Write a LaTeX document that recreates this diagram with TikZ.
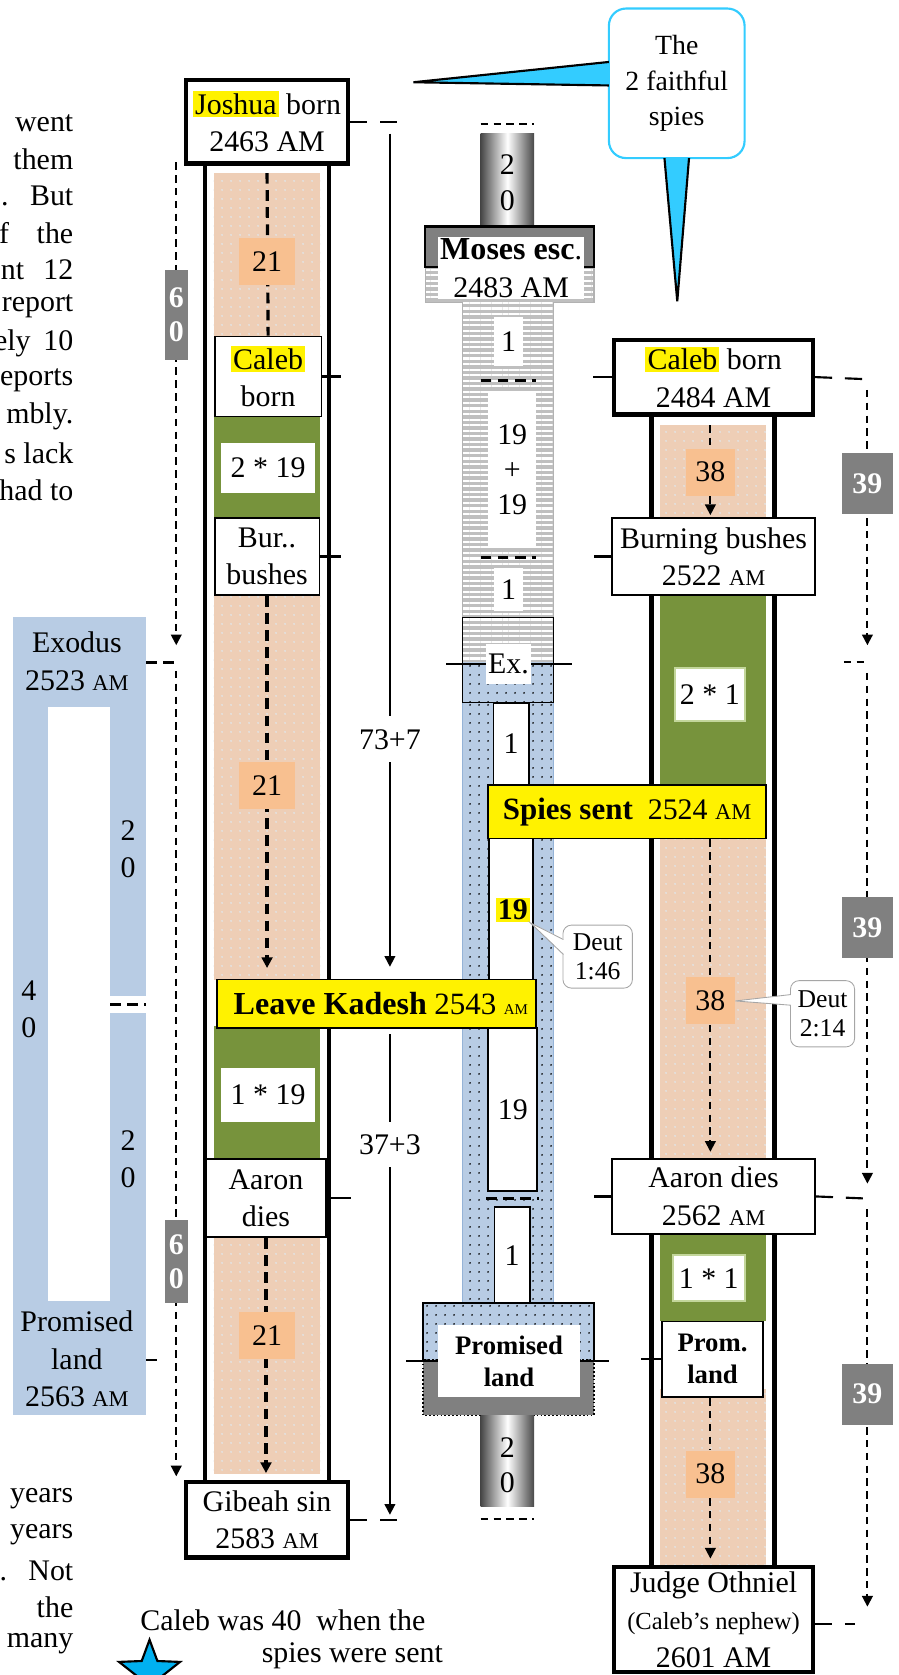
\documentclass[tikz,border=0pt]{standalone}
\usepackage{fontspec}
\setmainfont{Liberation Serif}
\usetikzlibrary{arrows.meta,patterns.meta,shapes.geometric}

\definecolor{exodusblue}{RGB}{184,204,228}
\definecolor{exodusedge}{RGB}{149,179,215}
\definecolor{desertpeach}{RGB}{238,206,182}
\definecolor{yearpeach}{RGB}{248,192,144}
\definecolor{kadeshgreen}{RGB}{119,147,60}
\definecolor{paleleaf}{RGB}{195,214,155}
\definecolor{counterbox}{RGB}{128,128,128}
\definecolor{midianstripe}{RGB}{191,191,191}
\definecolor{spycyan}{RGB}{51,204,255}
\definecolor{starcyan}{RGB}{0,176,240}
\definecolor{noteedge}{RGB}{166,166,166}

\newcommand\smallam{{\fontsize{10.5}{12}\selectfont AM}}
\newcommand\hlname[1]{{\setlength{\fboxsep}{1pt}\colorbox{yellow}{#1}}}

\begin{document}
\begin{tikzpicture}[x=0.5pt,y=-0.5pt,font=\fontsize{14}{17.5}\selectfont,
    >={Triangle[length=5pt,width=5pt]},
    event/.style={draw,line width=0.8pt,fill=white,align=center,inner sep=0pt},
    keyevent/.style={event,line width=2pt},
    yearsnum/.style={fill=yearpeach,minimum width=26pt,minimum height=22pt,inner sep=0pt},
    countbox/.style={fill=counterbox,text=white,align=center,inner sep=0pt,
      font=\fontsize{14}{16}\selectfont\bfseries},
    plainnum/.style={fill=white,align=center,inner sep=0pt},
    leafnum/.style={fill=white,draw=paleleaf,line width=1pt,inner sep=0pt},
    yellowbar/.style={draw,line width=0.8pt,fill=yellow,inner sep=0pt},
    note/.style={draw=noteedge,fill=white,rounded corners=4pt,align=center,
      inner sep=0pt,font=\fontsize{12}{13.5}\selectfont},
    fragment/.style={anchor=east,inner sep=0pt},
    desert/.style={fill=desertpeach,
      postaction={pattern={Dots[distance=4pt,radius=0.5pt]},pattern color=white!78!gray}},
    wilderness/.style={fill=exodusblue,
      postaction={pattern={Dots[distance=4pt,radius=0.45pt]},pattern color=black}},
    midian/.style={fill=midianstripe,
      postaction={pattern={Lines[distance=2.6pt,line width=1pt]},pattern color=white}},
    pillar/.style={left color=black!72,right color=black!72,middle color=white},
    tube/.style={line width=2pt},
    heavydash/.style={line width=1.5pt,dash pattern=on 5pt off 3pt},
    lightdash/.style={line width=0.9pt,dash pattern=on 3.5pt off 2.5pt},
    timedash/.style={line width=1pt,dash pattern=on 8pt off 6pt}]
  \useasboundingbox (0,0) rectangle (841,1568);

  \foreach \txt [count=\i] in {went,them,{.\hspace{10pt}But},{f\hspace{13pt}the},
      {nt\hspace{9pt}12},report,{ely\hspace{6pt}10},eports,mbly.,s lack,had to}
    \node[fragment] (fragtop\i) at (69,{115+34.4*(\i-1)}) {\txt};
  \foreach \txt [count=\i] in {years,years,{.\hspace{10pt}Not},the,many}
    \node[fragment] (fragbot\i) at (69,{1403+33.8*(\i-1)}) {\txt};

  \fill[exodusblue] (12,578) rectangle (137,1325);
  \fill[white] (45,662) rectangle (103,1218);
  \fill[white] (103,932) rectangle (137,948);
  \draw[heavydash] (103,940) -- (137,940);
  \node[align=center] (exodus) at (72,619) {Exodus\\2523 \smallam};
  \node[align=center] (twentyup) at (120,795) {2\\0};
  \node[align=center] (forty) at (27,945) {4\\0};
  \node[align=center] (twentydown) at (120,1085) {2\\0};
  \node[align=center] (promised) at (72,1272) {Promised\\land\\2563 \smallam};
  \coordinate (blueedge) at (137,1273);
  \draw[line width=1pt] (blueedge) -- ++(10,0);

  \path[desert] (200,162) rectangle (300,315);
  \path[desert] (200,557) rectangle (300,917);
  \path[desert] (200,1158) rectangle (300,1380);
  \fill[kadeshgreen] (200,385) rectangle (300,487);
  \fill[kadeshgreen] (200,960) rectangle (300,1087);
  \draw[tube] (192,155) -- (192,1385);
  \draw[tube] (308,155) -- (308,1385);

  \path[desert] (618,398) rectangle (717,485);
  \fill[kadeshgreen] (618,555) rectangle (717,737);
  \path[desert] (618,785) rectangle (717,1085);
  \fill[kadeshgreen] (618,1155) rectangle (717,1237);
  \path[desert] (618,1300) rectangle (717,1465);
  \draw[tube] (610,390) -- (610,1465);
  \draw[tube] (725,390) -- (725,1465);

  \draw[lightdash] (450,116) -- (500,116);
  \shade[pillar] (450,125) rectangle (500,212);
  \node[align=center,font=\fontsize{14}{16.5}\selectfont] (pillartop) at (475,171) {2\\0};
  \path[midian] (398,250) rectangle (556,283);
  \draw[gray!60,line width=0.6pt] (398,250) rectangle (556,283);
  \filldraw[fill=counterbox,line width=1pt] (398,212) rectangle (556,250);
  \path[midian] (433,283) rectangle (518,578);
  \draw[gray!60] (433,283) -- (433,578) (518,283) -- (518,578);
  \node[plainnum,minimum width=68.5pt,minimum height=29pt] (moses) at (478.5,251)
    {{\fontsize{15}{17}\selectfont\bfseries Moses esc}.\\2483 AM};
  \node[plainnum,minimum width=14pt,minimum height=23pt] (escone) at (476,320) {1};
  \draw[heavydash] (450,356) -- (502,356);
  \node[plainnum,minimum width=22.5pt,minimum height=73.5pt,
    font=\fontsize{14}{16.5}\selectfont] (midianyears) at (479.5,439.5) {19\\+\\19};
  \draw[heavydash] (450,522) -- (502,522);
  \node[plainnum,minimum width=14pt,minimum height=20pt] (bushone) at (476,552) {1};
  \path[midian] (433,578) rectangle (518,620);
  \path[wilderness] (433,620) rectangle (518,658);
  \draw[line width=0.8pt] (433,578) rectangle (518,658);
  \path[wilderness] (433,658) rectangle (518,1220);
  \draw[exodusedge,line width=0.8pt] (433,658) -- (433,1220) (518,658) -- (518,1220);
  \node[plainnum,minimum width=21pt,minimum height=18.5pt] (exbox) at (476,621.5) {Ex.};
  \draw[line width=1pt] (exbox.west) -- ++(-37,0);
  \draw[line width=1pt] (exbox.east) -- ++(38,0);
  \node[event,minimum width=16.5pt,minimum height=38.5pt] (exone) at (478.5,696.5) {1};
  \node[event,minimum width=20.5pt,minimum height=66pt] (spyyears) at (478.5,851) {};
  \node[fill=yellow,inner sep=1pt,font=\fontsize{14}{16}\selectfont\bfseries]
    (nineteen) at (480,852) {19};
  \node[event,minimum width=23pt,minimum height=76.5pt] (wanderyears) at (480,1038.5) {19};
  \draw[heavydash] (455,1122) -- (505,1122);
  \node[event,minimum width=16.5pt,minimum height=45pt] (landone) at (479.5,1175) {1};
  \path[wilderness] (396,1220) rectangle (556,1273);
  \draw[line width=0.8pt] (396,1273) |- (556,1220) -- (556,1273);
  \filldraw[fill=counterbox,densely dotted,line width=0.8pt] (396,1273) rectangle (556,1325);
  \node[plainnum,minimum width=66.5pt,minimum height=34pt,
    font=\fontsize{12.5}{15}\selectfont\bfseries] (landmid) at (476.5,1274) {Promised\\land};
  \draw[line width=1pt] (landmid.west) -- ++(-30,0);
  \draw[line width=1pt] (landmid.east) -- ++(27,0);
  \shade[pillar] (450,1325) rectangle (500,1410);
  \node[align=center,font=\fontsize{14}{16.5}\selectfont] (pillarlow) at (475,1371.5) {2\\0};
  \draw[lightdash] (450,1422) -- (500,1422);

  \node[keyevent,minimum width=76pt,minimum height=39pt] (joshua) at (250,114)
    {\hlname{Joshua} born\\2463 AM};
  \node[event,minimum width=50pt,minimum height=37.5pt] (calebL) at (251,352.5)
    {\hlname{Caleb}\\born};
  \node[plainnum,minimum width=44pt,minimum height=23.5pt] (twiceL) at (251,438) {2 * 19};
  \node[event,minimum width=49pt,minimum height=36pt] (bushesL) at (250,521) {Bur..\\bushes};
  \node[plainnum,minimum width=44pt,minimum height=25pt] (onceL) at (251,1025) {1 * 19};
  \node[event,minimum width=56pt,minimum height=36.5pt] (aaronL) at (249,1121.5) {Aaron\\dies};
  \node[keyevent,minimum width=76pt,minimum height=35.5pt] (gibeah) at (250,1422.5)
    {Gibeah sin\\2583 \smallam};
  \node[yellowbar,minimum width=149.5pt,minimum height=22.5pt] (kadesh) at (352.5,939.5)
    {\hspace{4pt}{\fontsize{15}{17}\selectfont\bfseries Leave Kadesh} {\fontsize{14.5}{17}\selectfont 2543}
     {\fontsize{7}{8}\selectfont AM}};

  \node[keyevent,minimum width=93pt,minimum height=35pt] (calebR) at (668,353)
    {\hlname{Caleb} born\\2484 AM};
  \node[event,minimum width=95pt,minimum height=36pt] (bushesR) at (668,521)
    {Burning bushes\\2522 \smallam};
  \node[leafnum,minimum width=32.5pt,minimum height=25pt] (twiceR) at (664.5,650) {2 * 1};
  \node[yellowbar,minimum width=130pt,minimum height=25pt] (spies) at (587,760)
    {{\fontsize{14.5}{16}\selectfont\bfseries Spies sent}\hspace{7pt}2524 \smallam};
  \node[event,minimum width=95pt,minimum height=35pt] (aaronR) at (668,1120)
    {Aaron dies\\2562 \smallam};
  \node[leafnum,minimum width=33.5pt,minimum height=21.5pt] (onceR) at (663.5,1196.5) {1 * 1};
  \node[event,minimum width=47pt,minimum height=35.5pt,
    font=\fontsize{12.5}{15}\selectfont\bfseries] (landR) at (667,1272.5) {Prom.\\land};
  \node[keyevent,minimum width=93pt,minimum height=49pt] (othniel) at (668,1516)
    {Judge Othniel\\{\fontsize{11.5}{14}\selectfont(Caleb's nephew)}\\2601 AM};

  \coordinate (joshuastart) at (250,162);
  \draw[heavydash] (joshuastart) -- (calebL.north);
  \draw[heavydash,->,shorten >=5pt] (bushesL.south) -- (bushesL.south |- kadesh.north);
  \draw[heavydash,->,shorten >=3pt] (aaronL.south) -- (aaronL.south |- gibeah.north);
  \node[yearsnum] (yrsA) at (250,245) {21};
  \node[yearsnum] (yrsB) at (250,735) {21};
  \node[yearsnum] (yrsC) at (250,1250) {21};
  \draw[line width=1pt] (calebL.east) -- ++(17,0);
  \draw[line width=1pt] (bushesL.east) -- ++(19,0);
  \draw[line width=1pt] (aaronL.east) -- ++(23,0);

  \coordinate (caleb38) at (665,398);
  \node[yearsnum,minimum width=23pt] (yrsD) at (665,442) {38};
  \node[yearsnum,minimum width=23pt] (yrsE) at (665,937) {38};
  \node[yearsnum,minimum width=23pt] (yrsF) at (665,1380) {38};
  \draw[lightdash] (caleb38) -- (yrsD.north);
  \draw[lightdash,->,shorten >=1pt] (yrsD.south) -- (yrsD.south |- bushesR.north);
  \draw[lightdash] (yrsE.north |- spies.south) -- (yrsE.north);
  \draw[lightdash,->,shorten >=3pt] (yrsE.south) -- (yrsE.south |- aaronR.north);
  \draw[lightdash] (yrsF.north |- landR.south) -- (yrsF.north);
  \draw[lightdash,->,shorten >=3pt] (yrsF.south) -- (yrsF.south |- othniel.north);
  \draw[line width=1pt] (calebR.west) -- ++(-18,0);
  \draw[line width=1pt] (bushesR.west) -- ++(-16,0);
  \draw[line width=1pt] (aaronR.west) -- ++(-16,0);
  \draw[line width=1pt] (landR.west) -- ++(-19,0);

  \draw[timedash] (joshua.east) -- ++(46,0);
  \coordinate (lifetop) at (365,125);
  \coordinate (lifekadesh) at (365,905);
  \coordinate (lifeafter) at (365,968);
  \coordinate (lifeend) at (365,1418);
  \draw[->,line width=0.8pt] (lifetop) -- node[pos=0.727,fill=white,inner xsep=1pt,
    inner ysep=6pt] (eightyyears) {73+7} (lifekadesh);
  \draw[->,line width=0.8pt] (lifeafter) -- node[pos=0.23,fill=white,inner xsep=1pt,
    inner ysep=6pt] (fortyyears) {37+3} (lifeend);
  \draw[timedash] (gibeah.east) -- ++(46,0);

  \coordinate (sixtytop) at (165,152);
  \coordinate (sixtyexodus) at (165,620);
  \coordinate (sixtyend) at (165,1382);
  \coordinate (exodusedge) at (137,620);
  \draw[lightdash,->] (sixtytop) -- ([yshift=8pt]sixtyexodus);
  \draw[heavydash] (exodusedge) -- (sixtyexodus);
  \draw[lightdash,->] ([yshift=-4pt]sixtyexodus) -- (sixtyend);
  \node[countbox,minimum width=11pt,minimum height=42pt] (sixtyA) at (165,295) {6\\0};
  \node[countbox,minimum width=11pt,minimum height=39pt] (sixtyB) at (165,1181) {6\\0};

  \coordinate (rightcaleb) at (812,355);
  \coordinate (rightexodus) at (812,620);
  \coordinate (rightaaron) at (812,1122);
  \coordinate (rightothniel) at (812,1520);
  \draw[timedash] (calebR.east) -- (rightcaleb);
  \draw[lightdash,->] ([yshift=-5pt]rightcaleb) -- ([yshift=8pt]rightexodus);
  \draw[lightdash] ([xshift=-11pt]rightexodus) -- (rightexodus);
  \draw[lightdash,->] ([yshift=-5pt]rightexodus) -- ([yshift=7pt]rightaaron);
  \draw[timedash] (aaronR.east) -- (rightaaron);
  \draw[lightdash,->] ([yshift=-5pt]rightaaron) -- ([yshift=8pt]rightothniel);
  \draw[timedash] (othniel.east |- rightothniel) -- ([xshift=-6pt]rightothniel);
  \node[countbox,minimum width=23.5pt,minimum height=28.5pt] (thirtynineA) at (812,453) {39};
  \node[countbox,minimum width=23.5pt,minimum height=28.5pt] (thirtynineB) at (812,868) {39};
  \node[countbox,minimum width=23.5pt,minimum height=28.5pt] (thirtynineC) at (812,1305) {39};

  \node[note,minimum width=32.5pt,minimum height=29.5pt] (deutA) at (559.5,895.5) {Deut\\1:46};
  \fill[white] ([xshift=1pt,yshift=8pt]deutA.west) -- (nineteen.south east)
    -- ([xshift=1pt,yshift=1pt]deutA.west) -- cycle;
  \draw[noteedge] ([xshift=0.4pt,yshift=8pt]deutA.west) -- (nineteen.south east)
    -- ([xshift=0.4pt,yshift=1pt]deutA.west);
  \node[note,minimum width=30pt,minimum height=31pt] (deutB) at (770,949) {Deut\\2:14};
  \fill[white] ([xshift=1pt,yshift=9pt]deutB.west) -- (yrsE.east)
    -- ([xshift=1pt,yshift=4pt]deutB.west) -- cycle;
  \draw[noteedge] ([xshift=0.4pt,yshift=9pt]deutB.west) -- (yrsE.east)
    -- ([xshift=0.4pt,yshift=4pt]deutB.west);

  \node[draw=spycyan,line width=1pt,fill=white,rounded corners=8pt,minimum width=63.5pt,
    minimum height=70pt,align=center,font=\fontsize{13}{16.5}\selectfont] (bubble)
    at (633.5,78) {The\\2 faithful\\spies};
  \coordinate (tipjoshua) at (387,77);
  \coordinate (tipcaleb) at (634,282);
  \fill[spycyan] ([xshift=1pt,yshift=10pt]bubble.west) -- (tipjoshua)
    -- ([xshift=1pt,yshift=-1pt]bubble.west) -- cycle;
  \draw[line width=1pt] ([xshift=0.5pt,yshift=10pt]bubble.west) -- (tipjoshua)
    -- ([xshift=0.5pt,yshift=-1pt]bubble.west);
  \fill[spycyan] ([xshift=-5.75pt,yshift=1pt]bubble.south) -- (tipcaleb)
    -- ([xshift=5.75pt,yshift=1pt]bubble.south) -- cycle;
  \draw[line width=1pt] ([xshift=-5.75pt,yshift=0.5pt]bubble.south) -- (tipcaleb)
    -- ([xshift=5.75pt,yshift=0.5pt]bubble.south);

  \node[star,star points=5,star point ratio=2.4,draw,line width=1pt,fill=starcyan,
    minimum size=30pt,inner sep=0pt] (agestar) at (140,1565) {};
  \node[anchor=west,inner sep=0pt] (calebage) at (131,1517) {Caleb was 40\ \ when the};
  \node[anchor=east,inner sep=0pt] (spiessent) at (415,1550) {spies were sent};
\end{tikzpicture}
\end{document}
